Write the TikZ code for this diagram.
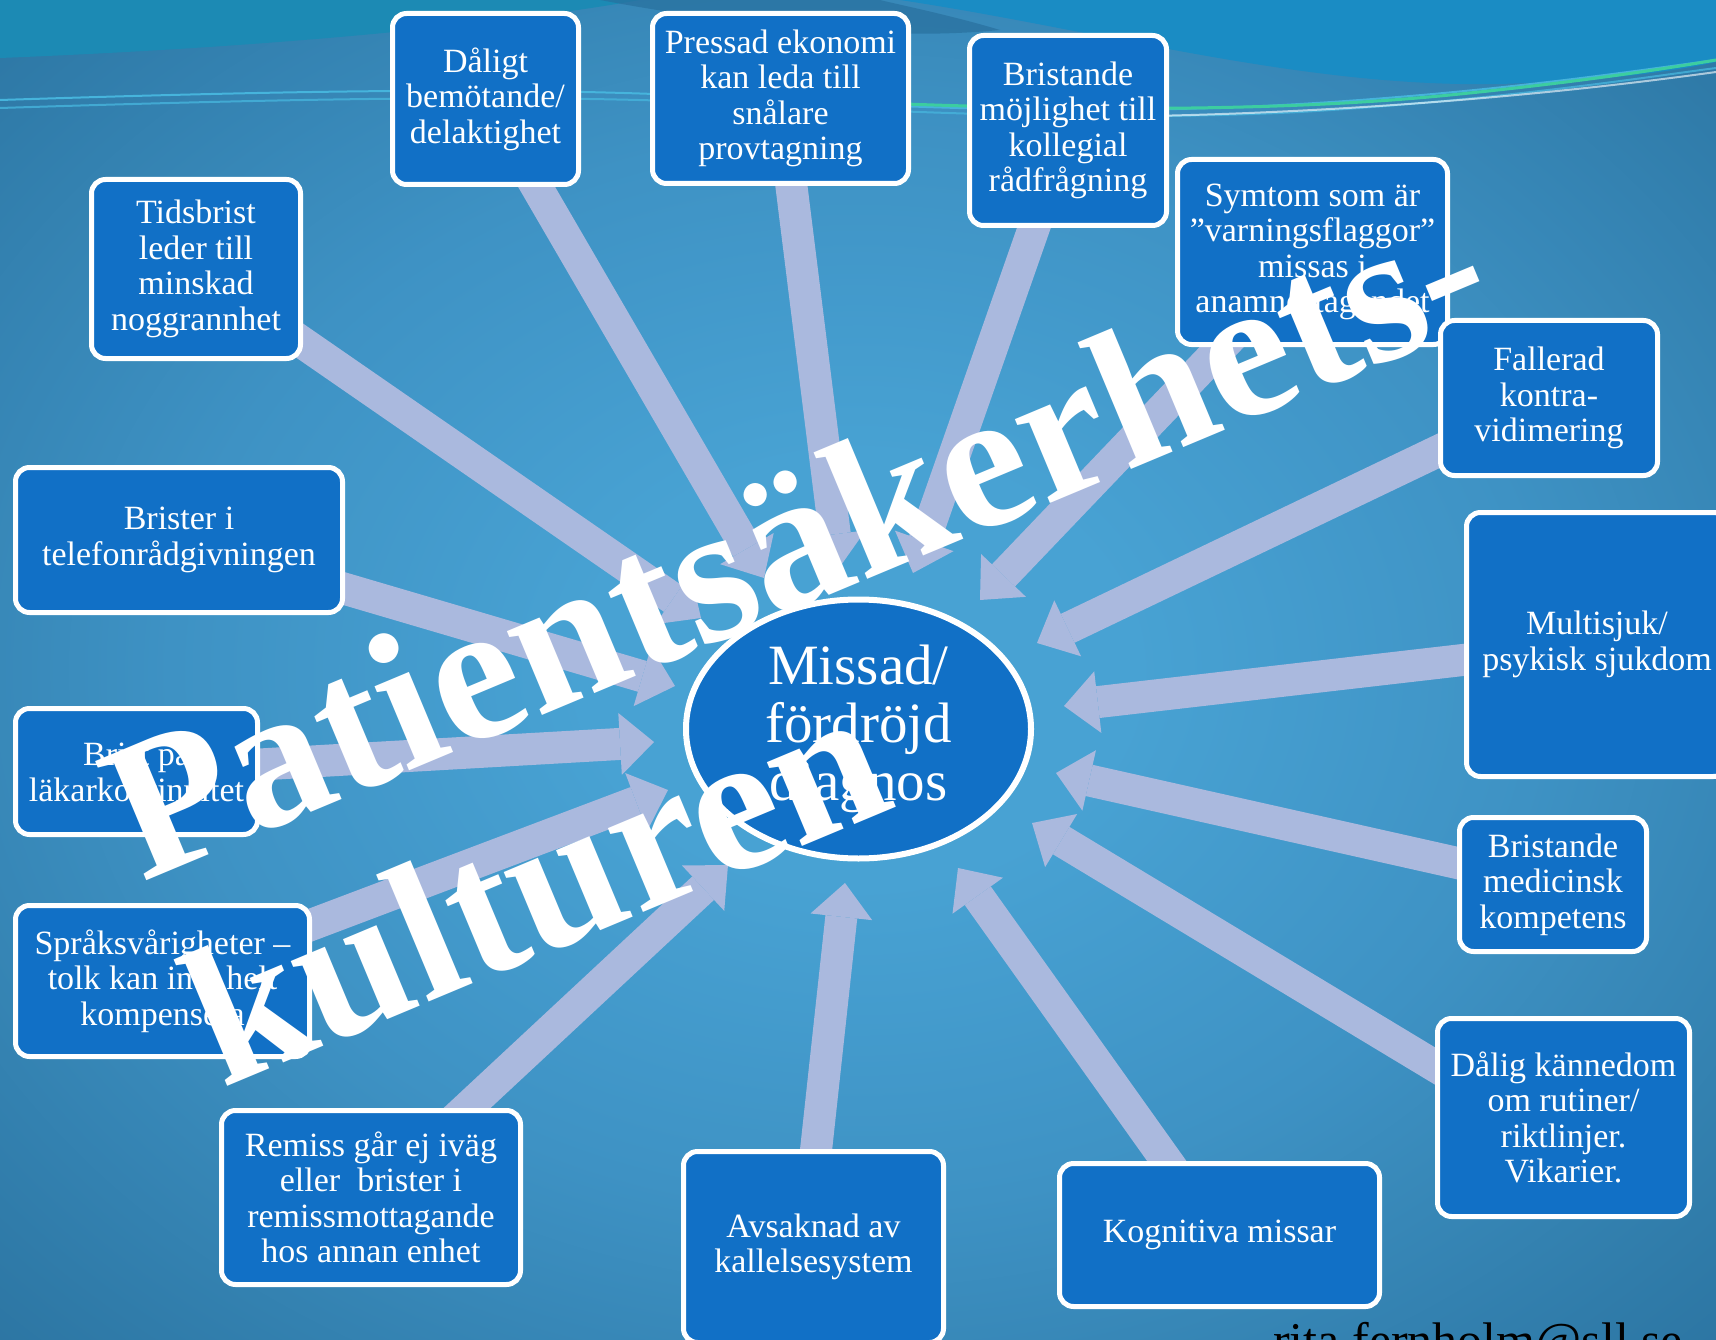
\documentclass[tikz,border=0pt]{standalone}
\usepackage{fontspec}
\setmainfont{Liberation Serif}
\usetikzlibrary{arrows.meta,shapes.geometric}

\pgfdeclarelayer{bg}
\pgfdeclarelayer{arrows}
\pgfdeclarelayer{front}
\pgfsetlayers{bg,arrows,main,front}

\definecolor{boxblue}{RGB}{17,112,198}
\definecolor{arrowlav}{RGB}{170,185,222}
\definecolor{bgcenter}{RGB}{72,162,211}
\definecolor{bglight}{RGB}{62,146,196}
\definecolor{bgmid}{RGB}{48,124,170}
\definecolor{bgdeep}{RGB}{38,106,150}
\definecolor{bgedge}{RGB}{32,96,138}
\definecolor{bgcorner}{RGB}{26,84,124}
\definecolor{topteal}{RGB}{28,138,180}
\definecolor{topbright}{RGB}{26,140,196}
\definecolor{swoosh}{RGB}{40,112,158}
\definecolor{lineblue}{RGB}{70,180,220}
\definecolor{linegreen}{RGB}{60,205,160}

% radial glow in a 100bp square, stretched over the slide
\pgfdeclareradialshading{slideglow}{\pgfpoint{0bp}{0bp}}{%
  color(0bp)=(bgcenter); color(8bp)=(bgcenter); color(20bp)=(bglight);
  color(32bp)=(bgmid); color(42bp)=(bgdeep); color(50bp)=(bgedge); color(71bp)=(bgcorner)}

\newcommand\bxfont{\fontsize{34}{35.5}\selectfont}
\newcommand\ellfont{\fontsize{57}{58}\selectfont}
\newcommand\bigfont{\bfseries\fontsize{198}{225}\selectfont}

\tikzset{
  box/.style={draw=white, line width=5pt, fill=boxblue, rounded corners=14pt,
    text=white, align=center, font=\bxfont, inner sep=3pt},
  flow/.style={draw=arrowlav, line width=32pt,
    -{Triangle[width=62pt,length=34pt,line width=0pt]}},
  bigword/.style={text=white, font=\bigfont, inner sep=0pt, anchor=base west, rotate=22.7}
}

\begin{document}
\begin{tikzpicture}[x=1pt,y=-1pt]
\useasboundingbox (0,0) rectangle (1716,1340);

% slide background
\begin{pgfonlayer}{bg}
  \shade[shading=slideglow] (0,0) rectangle (1716,1340);
  \fill[topteal] (0,0) -- (0,58) .. controls (250,48) and (480,28) .. (640,0) -- cycle;
  \fill[swoosh, opacity=0.7] (600,0) .. controls (760,30) and (900,40) .. (1000,30)
      .. controls (950,15) and (900,5) .. (880,0) -- cycle;
  \fill[topbright] (900,0) .. controls (1100,30) and (1300,88) .. (1500,84)
      .. controls (1620,80) and (1680,70) .. (1716,62) -- (1716,0) -- cycle;
  \draw[lineblue, line width=2pt] (0,100) .. controls (250,92) and (500,86) .. (700,96)
      .. controls (900,108) and (1100,116) .. (1300,104) .. controls (1500,92) and (1640,70) .. (1716,60);
  \draw[lineblue, line width=2pt, opacity=0.8] (0,108) .. controls (250,100) and (500,94) .. (700,102)
      .. controls (900,112) and (1100,122) .. (1300,112) .. controls (1500,100) and (1640,78) .. (1716,68);
  \draw[linegreen, line width=3pt] (880,103) .. controls (1100,112) and (1300,110) .. (1450,95)
      .. controls (1580,82) and (1670,68) .. (1716,60);
  \draw[white, opacity=0.6, line width=2pt] (1150,116) .. controls (1350,112) and (1550,95) .. (1716,72);
\end{pgfonlayer}

% causes
\node[box, minimum width=186pt, minimum height=171pt] (dalig) at (485.5,99) {Dåligt\\bemötande/\\delaktighet};
\node[box, minimum width=256pt, minimum height=170pt] (pressad) at (780.5,98.5) {Pressad ekonomi\\kan leda till\\snålare\\provtagning};
\node[box, minimum width=197pt, minimum height=190pt] (kollegial) at (1068,130.5) {Bristande\\möjlighet till\\kollegial\\rådfrågning};
\node[box, minimum width=270pt, minimum height=185pt] (symtom) at (1312.5,252) {Symtom som är\\”varningsflaggor”\\missas i\\anamnestagandet};
\node[box, minimum width=217pt, minimum height=155pt] (fallerad) at (1549,398) {Fallerad\\kontra-\\vidimering};
\node[box, minimum width=261pt, minimum height=264pt] (multisjuk) at (1597,644.5) {Multisjuk/\\psykisk sjukdom};
\node[box, minimum width=187pt, minimum height=134pt] (medicinsk) at (1553,884.5) {Bristande\\medicinsk\\kompetens};
\node[box, minimum width=252pt, minimum height=198pt] (kannedom) at (1563.5,1117.5) {Dålig kännedom\\om rutiner/\\riktlinjer.\\Vikarier.};
\node[box, minimum width=320pt, minimum height=143pt] (kognitiva) at (1219.5,1235) {Kognitiva missar};
\node[box, minimum width=260pt, minimum height=191pt] (avsaknad) at (813.5,1247) {Avsaknad av\\kallelsesystem};
\node[box, minimum width=299pt, minimum height=174pt] (remiss) at (371,1197.5) {Remiss går ej iväg\\eller\ \ brister i\\remissmottagande\\hos annan enhet};
\node[box, minimum width=294pt, minimum height=151pt] (sprak) at (162.5,981) {Språksvårigheter –\\tolk kan inte helt\\kompensera};
\node[box, minimum width=242pt, minimum height=126pt] (lakar) at (136.5,771.5) {Brist på\\läkarkontinuitet};
\node[box, minimum width=327pt, minimum height=145pt] (telefon) at (179,540) {Brister i\\telefonrådgivningen};
\node[box, minimum width=209pt, minimum height=179pt] (tidsbrist) at (196,269) {Tidsbrist\\leder till\\minskad\\noggrannhet};

% central effect
\node[ellipse, draw=white, line width=6pt, fill=boxblue, minimum width=345pt, minimum height=259pt,
  text=white, font=\ellfont, align=center, inner sep=0pt] (miss) at (858.5,729) {Missad/\\fördröjd\\diagnos};

% arrow tips around the ellipse
\coordinate (tdalig) at (764,578);
\coordinate (tpressad) at (839,568);
\coordinate (tkollegial) at (913,573);
\coordinate (tsymtom) at (980,600);
\coordinate (tfallerad) at (1037,643);
\coordinate (tmultisjuk) at (1064,706);
\coordinate (tmedicinsk) at (1056,773);
\coordinate (tkannedom) at (1032,823);
\coordinate (tkognitiva) at (958,868);
\coordinate (tavsaknad) at (845,883);
\coordinate (tremiss) at (728,865);
\coordinate (tsprak) at (668,790);
\coordinate (tlakar) at (654,742);
\coordinate (ttelefon) at (675,686);
\coordinate (ttidsbrist) at (701,618);

\begin{pgfonlayer}{arrows}
  \draw[flow] (dalig.center) -- (tdalig);
  \draw[flow] (pressad.center) -- (tpressad);
  \draw[flow] (kollegial.center) -- (tkollegial);
  \draw[flow] (symtom.center) -- (tsymtom);
  \draw[flow] (fallerad.center) -- (tfallerad);
  \draw[flow] (multisjuk.center) -- (tmultisjuk);
  \draw[flow] (medicinsk.center) -- (tmedicinsk);
  \draw[flow] ([yshift=-26pt]kannedom.center) -- (tkannedom);
  \draw[flow] (kognitiva.center) -- (tkognitiva);
  \draw[flow] ([xshift=-8pt]avsaknad.center) -- (tavsaknad);
  \draw[flow] (remiss.center) -- (tremiss);
  \draw[flow] (sprak.center) -- (tsprak);
  \draw[flow] (lakar.center) -- (tlakar);
  \draw[flow] (telefon.center) -- (ttelefon);
  \draw[flow] (tidsbrist.center) -- (ttidsbrist);
\end{pgfonlayer}

% author address
\node[anchor=base west, inner sep=0pt, text=black, font=\fontsize{50}{50}\selectfont] (mail) at (1273,1357) {rita.fernholm@sll.se};

% overlaid title
\begin{pgfonlayer}{front}
  \node[bigword] (word1) at (142,883) {Patientsäkerhets-};
  \node[bigword] (word2) at (222,1089) {kulturen};
\end{pgfonlayer}
\end{tikzpicture}
\end{document}
